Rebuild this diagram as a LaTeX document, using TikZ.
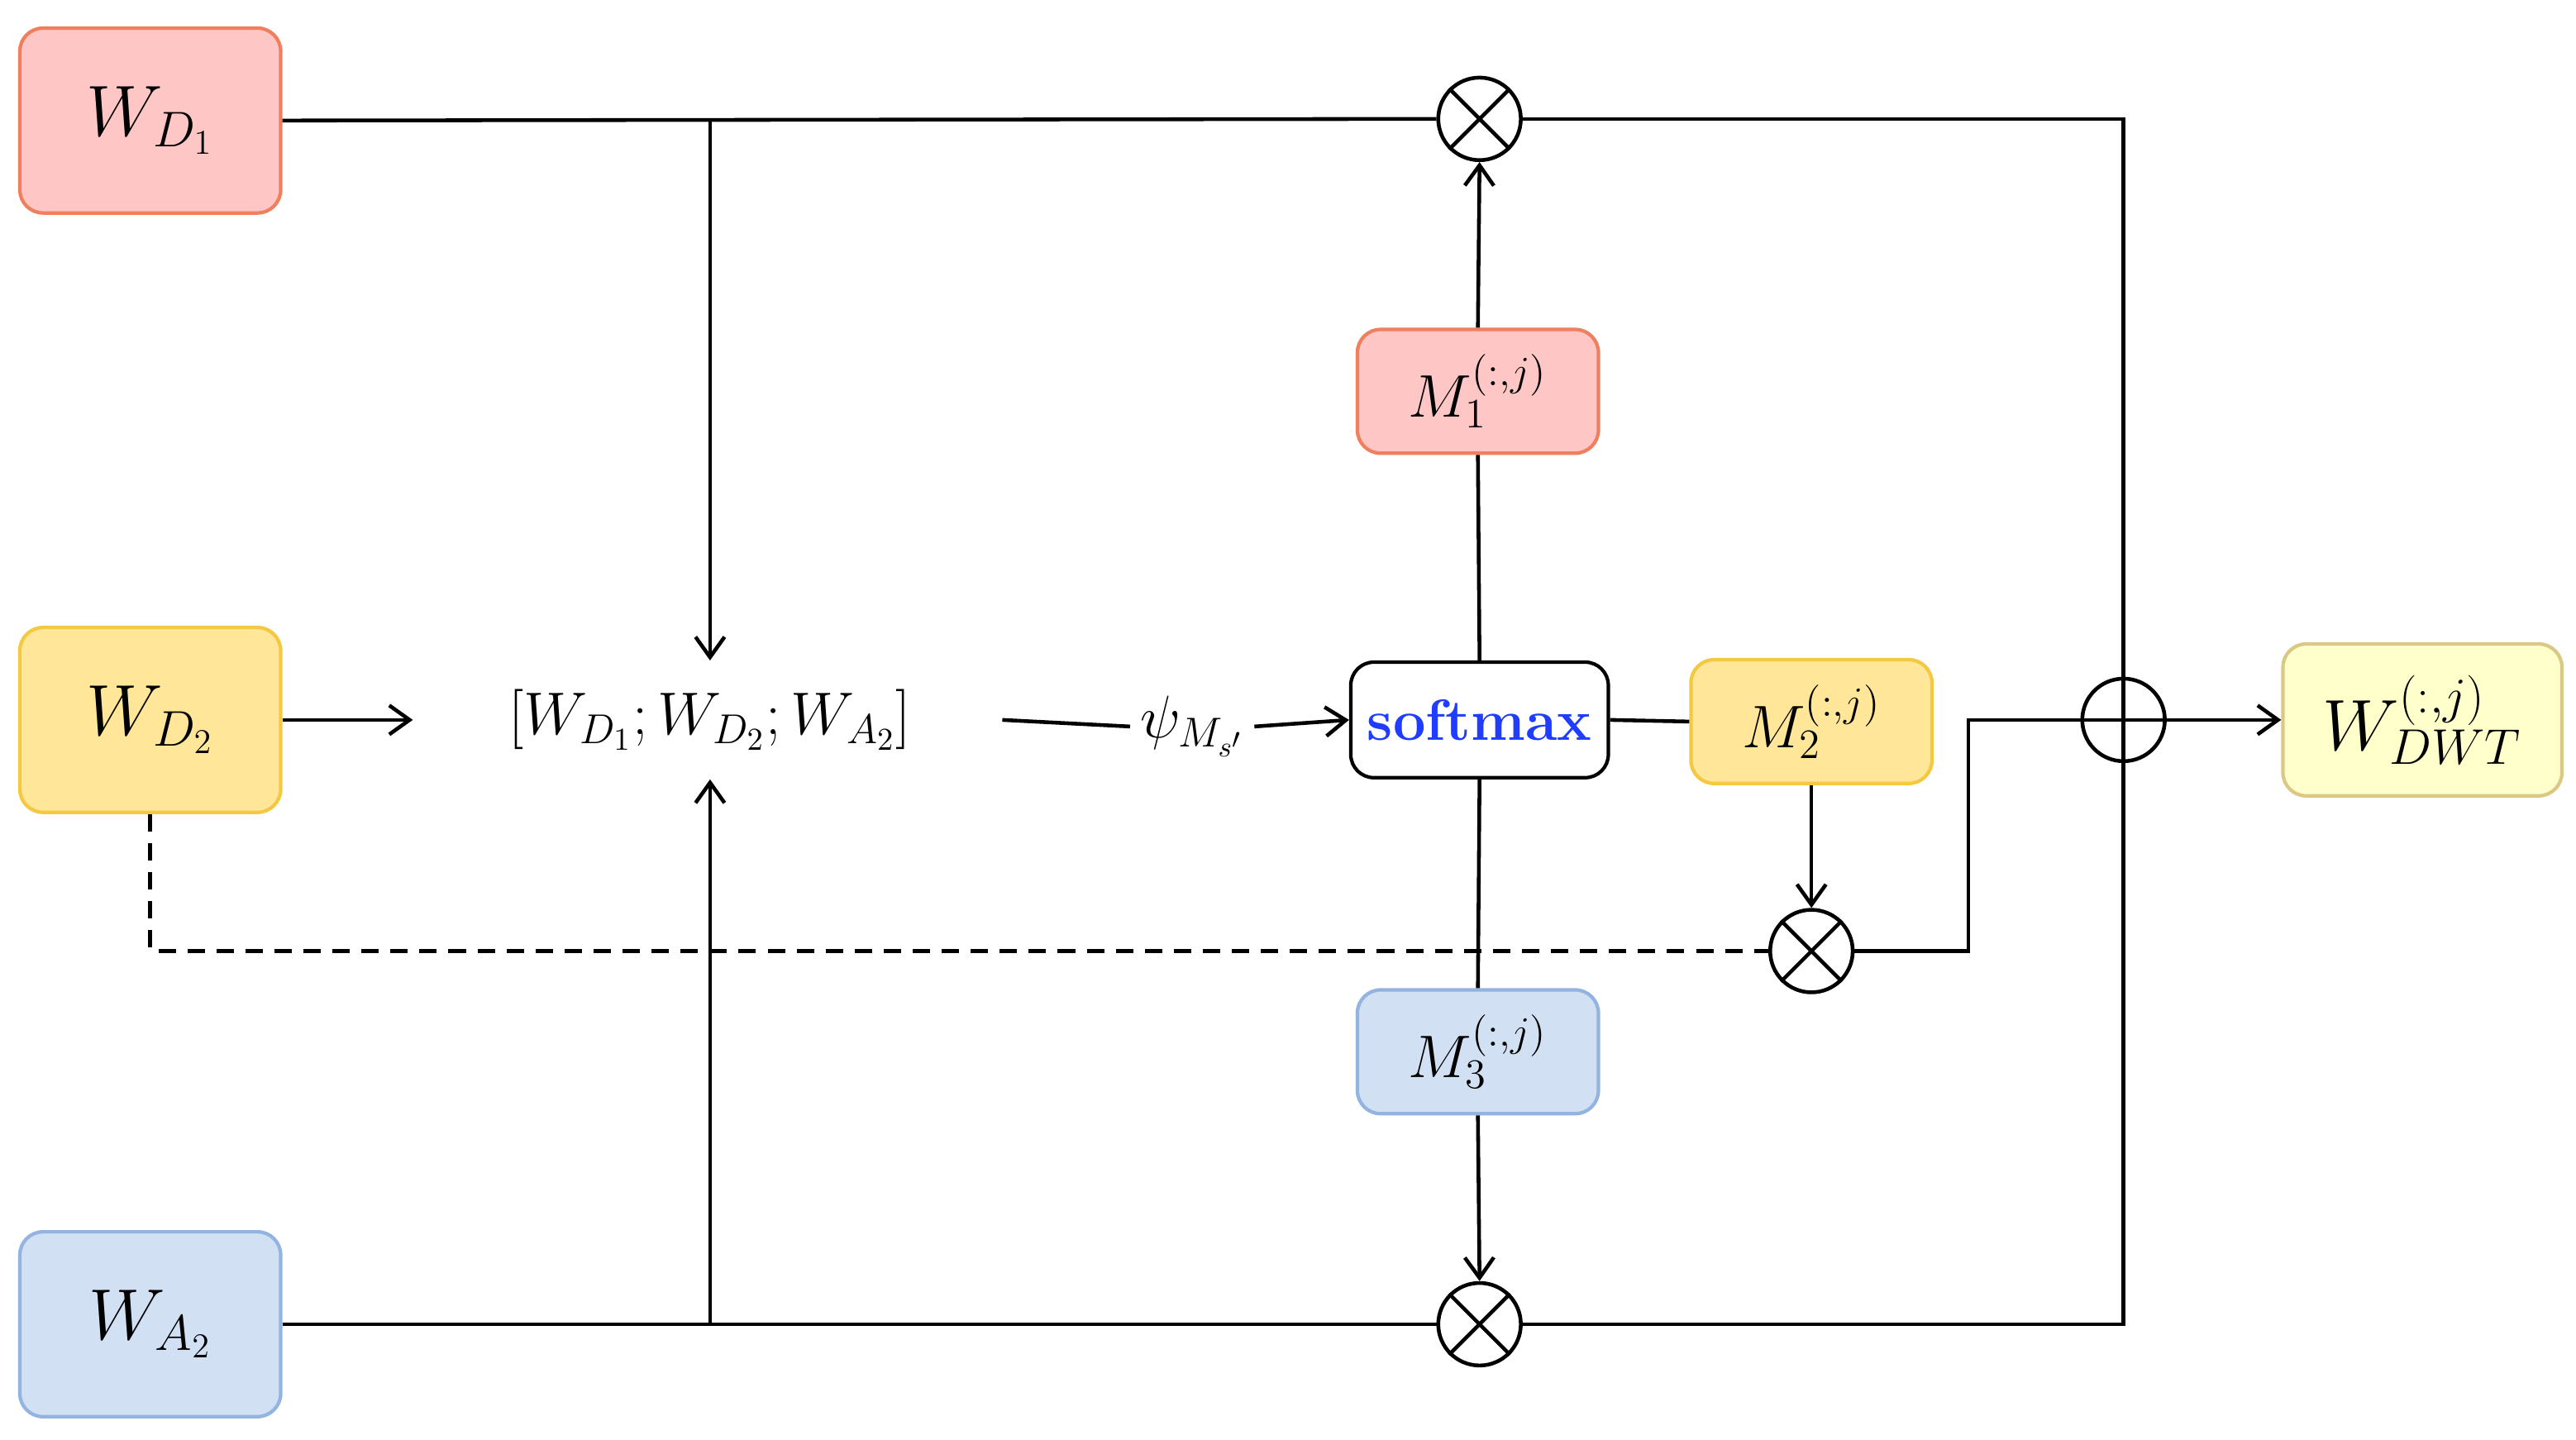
\documentclass[tikz,border=0pt]{standalone}
\usetikzlibrary{arrows.meta}
\begin{document}
\begin{tikzpicture}[x=0.02cm,y=-0.02cm,
  box/.style={draw,rounded corners=8pt,line width=1.2pt,inner sep=0pt},
  big/.style={font=\fontsize{26}{30}\selectfont},
  mid/.style={font=\fontsize{20}{24}\selectfont},
  ln/.style={line width=1.3pt},
  arr/.style={ln,-{Straight Barb[length=7pt,width=10pt]}},
  op/.style={draw,circle,line width=1.3pt,minimum size=1cm,inner sep=0pt}]
\definecolor{rf}{HTML}{FFC6C6}\definecolor{rd}{HTML}{F07F5E}
\definecolor{yf}{HTML}{FFE699}\definecolor{yd}{HTML}{F5C842}
\definecolor{bf}{HTML}{D2E0F4}\definecolor{bd}{HTML}{93B3E0}
\definecolor{lf}{HTML}{FFFFCC}\definecolor{ld}{HTML}{D9C985}
\definecolor{sb}{HTML}{1F3CFF}
\useasboundingbox (0,0) rectangle (1560,872);
\node[box,fill=rf,draw=rd,minimum width=3.16cm,minimum height=2.24cm,big] (d1) at (91,73) {$W_{D_1}$};
\node[box,fill=yf,draw=yd,minimum width=3.16cm,minimum height=2.24cm,big] (d2) at (91,436) {$W_{D_2}$};
\node[box,fill=bf,draw=bd,minimum width=3.16cm,minimum height=2.24cm,big] (a2) at (91,802) {$W_{A_2}$};
\node[big,font=\fontsize{22}{26}\selectfont] (cat) at (430,436) {$[W_{D_1};W_{D_2};W_{A_2}]$};
\node[mid] (psi) at (722,440) {$\psi_{M_{s'}}$};
\node[box,draw=black,fill=white,minimum width=3.12cm,minimum height=1.4cm,text=sb,font=\fontsize{20}{24}\selectfont\bfseries] (sm) at (896,436) {softmax};
\node[box,fill=rf,draw=rd,minimum width=2.92cm,minimum height=1.5cm,mid] (m1) at (895,237) {$M_1^{(:,j)}$};
\node[box,fill=yf,draw=yd,minimum width=2.92cm,minimum height=1.5cm,mid] (m2) at (1097,437) {$M_2^{(:,j)}$};
\node[box,fill=bf,draw=bd,minimum width=2.92cm,minimum height=1.5cm,mid] (m3) at (895,637) {$M_3^{(:,j)}$};
\node[box,fill=lf,draw=ld,minimum width=3.38cm,minimum height=1.84cm,big,font=\fontsize{24}{28}\selectfont] (out) at (1467,436) {$W_{DWT}^{(:,j)}$};
\node[op] (xt) at (896,72) {};
\node[op] (xb) at (896,802) {};
\node[op] (xm) at (1097,576) {};
\node[op] (pl) at (1286,436) {};
\foreach \n in {xt,xb,xm}{\draw[ln] (\n.north west)--(\n.south east) (\n.north east)--(\n.south west);}
\draw[ln] (pl.north)--(pl.south) (pl.west)--(pl.east);
\coordinate (ct) at (430,72); \coordinate (cb) at (430,802);
\coordinate (rt) at (1286,72); \coordinate (rb) at (1286,802);
\draw[ln] (d1.east) -- (xt.west); \draw[ln] (xt.east) -- (rt) -- (pl.north);
\draw[ln] (a2.east) -- (xb.west); \draw[ln] (xb.east) -- (rb) -- (pl.south);
\draw[arr] (ct) -- (430,400);
\draw[arr] (cb) -- (430,472);
\draw[arr] (d2.east) -- (250,436);
\draw[ln] (607,436) -- (psi.west);
\draw[arr] (psi.east) -- (sm.west);
\draw[ln] (sm.north) -- (m1.south); \draw[arr] (m1.north) -- (xt.south);
\draw[ln] (sm.south) -- (m3.north); \draw[arr] (m3.south) -- (xb.north);
\draw[ln] (sm.east) -- (m2.west);
\draw[arr] (m2.south) -- (xm.north);
\draw[ln,dashed,dash pattern=on 6pt off 4pt] (d2.south) |- (xm.west);
\draw[ln] (xm.east) -| (1192,436) -- (pl.west);
\draw[arr] (pl.east) -- (out.west);
\end{tikzpicture}
\end{document}
